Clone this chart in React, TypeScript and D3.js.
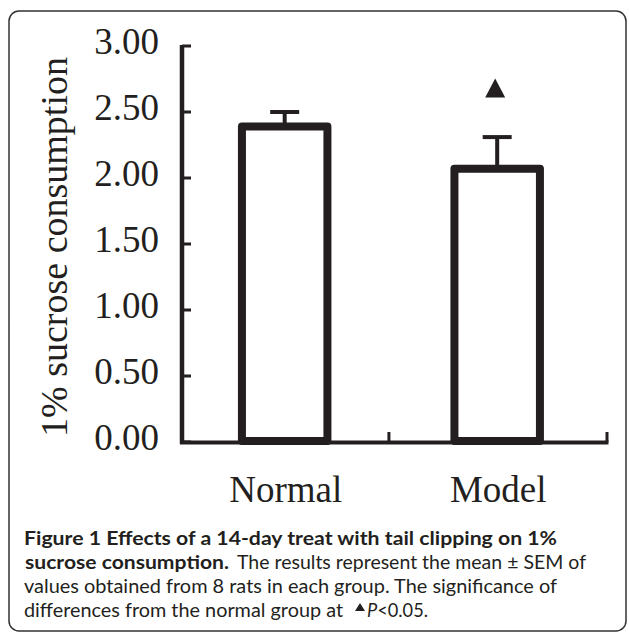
import * as d3 from 'd3';

// chart values
const categories = ['Normal', 'Model'];
const means = [2.39, 2.07];
const sems = [0.11, 0.24];
const significant = [false, true];
const markerBase = 2.61; // bottom of the ▲ marker, in data units
const yTicks = [0, 0.5, 1, 1.5, 2, 2.5, 3];
const yLabel = '1% sucrose consumption';

// caption pieces, each fitted between x0 and x1 on its line
const caption: { text: string; bold?: boolean; x0: number; x1: number; line: number }[] = [
  { text: 'Figure 1 Effects of a 14-day treat with tail clipping on 1%', bold: true, x0: 24, x1: 557, line: 0 },
  { text: 'sucrose consumption.', bold: true, x0: 25, x1: 229, line: 1 },
  { text: 'The results represent the mean ± SEM of', x0: 237, x1: 586, line: 1 },
  { text: 'values obtained from 8 rats in each group. The significance of', x0: 24, x1: 557, line: 2 },
  { text: 'differences from the normal group at', x0: 24, x1: 343, line: 3 },
  { text: 'P<0.05.', x0: 367, x1: 428, line: 3 },
];
const captionBaselines = [545, 569, 593, 617];

const W = 629;
const H = 633;
const ink = '#231f20';

export default function App() {
  const x = d3.scaleBand<string>().domain(categories).range([182, 607]).paddingInner(0.56).paddingOuter(0.28).align(0.47);
  const y = d3.scaleLinear().domain([0, 3]).range([442, 46]);
  const bw = x.bandwidth();
  const barStroke = 8;
  const capW = 29;
  const serif = '"Liberation Serif", "Times New Roman", serif';
  const sans = 'Lato, "Open Sans", sans-serif';

  return (
    <svg width={W} height={H} style={{ position: 'absolute', left: 0, top: 0, display: 'block' }}>
      <rect x={0} y={0} width={W} height={H} fill="#fff" />
      {/* frame */}
      <rect x={9} y={11} width={617} height={620} rx={10} fill="none" stroke="#333" strokeWidth={1.5} />

      {/* y axis */}
      <line x1={182} x2={182} y1={y(3) - 1} y2={y(0) + 2} stroke={ink} strokeWidth={4.5} />
      {yTicks.map((t) => (
        <g key={t}>
          <line x1={182} x2={191} y1={y(t)} y2={y(t)} stroke={ink} strokeWidth={3} />
          <text x={159} y={y(t) + 8} textAnchor="end" fontFamily={serif} fontSize={37} fill={ink}>
            {t.toFixed(2)}
          </text>
        </g>
      ))}
      <text transform={`translate(67,247) rotate(-90)`} textAnchor="middle" fontFamily={serif} fontSize={38} fill={ink}>
        {yLabel}
      </text>

      {/* bars */}
      {categories.map((c, i) => {
        const x0 = x(c)!;
        const cx = x0 + bw / 2;
        const top = y(means[i]);
        const errTop = y(means[i] + sems[i]);
        return (
          <g key={c}>
            <line x1={cx} x2={cx} y1={top} y2={errTop} stroke={ink} strokeWidth={4} />
            <line x1={cx - capW / 2} x2={cx + capW / 2} y1={errTop} y2={errTop} stroke={ink} strokeWidth={4} />
            <rect
              x={x0 + barStroke / 2}
              y={top}
              width={bw - barStroke}
              height={y(0) - 1 - top}
              fill="#fff"
              stroke={ink}
              strokeWidth={barStroke}
              strokeLinejoin="round"
            />
            {significant[i] && (
              <path
                d={`M${cx - 12},${y(markerBase)} L${cx + 8},${y(markerBase)} L${cx - 2},${y(markerBase) - 19} Z`}
                fill={ink}
              />
            )}
          </g>
        );
      })}

      {/* x axis */}
      <line x1={180} x2={608.5} y1={y(0) + 0.5} y2={y(0) + 0.5} stroke={ink} strokeWidth={4} />
      {[x(categories[1])! - (x.step() - bw) / 2 - 2, 607].map((tx) => (
        <line key={tx} x1={tx} x2={tx} y1={y(0)} y2={y(0) - 10} stroke={ink} strokeWidth={3} />
      ))}
      {categories.map((c) => (
        <text key={c} x={x(c)! + bw / 2 + 1} y={502} textAnchor="middle" fontFamily={serif} fontSize={37} fill={ink}>
          {c}
        </text>
      ))}

      {/* caption */}
      {caption.map((s, i) => (
        <text
          key={i}
          x={s.x0}
          y={captionBaselines[s.line]}
          fontFamily={sans}
          fontSize={19.5}
          fontWeight={s.bold ? 700 : 400}
          fill={ink}
          textLength={s.x1 - s.x0}
          lengthAdjust="spacingAndGlyphs"
        >
          {s.text.startsWith('P<') ? (
            <>
              <tspan fontStyle="italic">P</tspan>
              <tspan>{s.text.slice(1)}</tspan>
            </>
          ) : (
            s.text
          )}
        </text>
      ))}
      <path d={`M355,${captionBaselines[3] - 6} L365,${captionBaselines[3] - 6} L360,${captionBaselines[3] - 14} Z`} fill={ink} />
    </svg>
  );
}
